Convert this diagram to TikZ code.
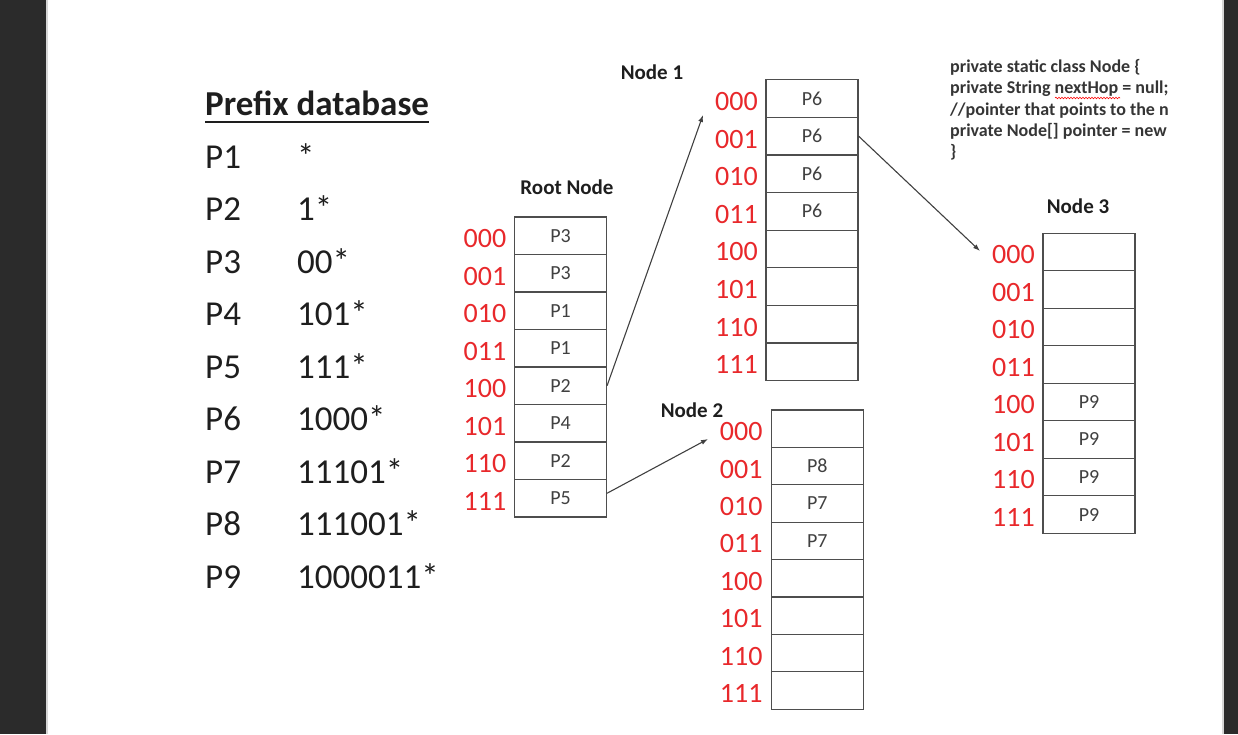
\documentclass[tikz,border=0pt]{standalone}
\usepackage{fontspec}
\setmainfont{Carlito}
\usepackage{xcolor}
\usepackage{tikz}
\usetikzlibrary{positioning, arrows.meta, decorations.pathmorphing}
\definecolor{idxred}{HTML}{E8282B}
\definecolor{ink}{HTML}{1E1E1E}
\definecolor{cellline}{HTML}{4E4E4E}
\definecolor{frame}{HTML}{2B2B2B}
\definecolor{frameedge}{HTML}{D6D6D6}
\tikzstyle{cell} = [rectangle, draw=cellline, line width=1.1pt, minimum width=92pt,
    minimum height=37.5pt, inner sep=0pt, text=ink!85, font=\fontsize{20}{24}\selectfont]
\tikzstyle{idx} = [inner sep=0pt, text=idxred, font=\fontsize{28}{32}\selectfont]
\tikzstyle{title} = [inner sep=0pt, anchor=base, text=ink, font=\bfseries\fontsize{21}{25}\selectfont]
\tikzstyle{db} = [inner sep=0pt, anchor=base west, text=ink, font=\fontsize{35}{40}\selectfont]
\tikzstyle{code} = [inner sep=0pt, anchor=base west, text=ink!90, font=\bfseries\fontsize{18}{21}\selectfont]
\tikzstyle{link} = [draw=ink!85, line width=1.1pt, -{Latex[length=7pt,width=5pt]}]

\begin{document}
\begin{tikzpicture}[x=1pt, y=-1pt]
        \useasboundingbox (0,0) rectangle (1238,734);
        % Screen frame
        \fill [frame] (0,0) rectangle (46,734);
        \fill [frameedge] (46,0) rectangle (48,734);
        \fill [frameedge] (1222,0) rectangle (1224,734);
        \fill [frame] (1224,0) rectangle (1238,734);
        % Prefix database
        \node [db, font=\bfseries\fontsize{35}{40}\selectfont] (dbhead) at (205,115) {Prefix database};
        \draw [ink, line width=2pt] ([yshift=-6.5pt]dbhead.base west) -- ([yshift=-6.5pt]dbhead.base east);
        \foreach \i/\v in {1/*,2/1*,3/00*,4/101*,5/111*,6/1000*,7/11101*,8/111001*,9/1000011*}{
            \node [db] (pname\i) at (205,{168+52.5*(\i-1)}) {P\i};
            \node [db] (pval\i) at (297,{168+52.5*(\i-1)}) {\v};
        }
        % Root node
        \node [title] (roottitle) at (567,194) {Root Node};
        \foreach \i/\b/\p in {0/000/P3,1/001/P3,2/010/P1,3/011/P1,4/100/P2,5/101/P4,6/110/P2,7/111/P5}{
            \node [cell] (root\i) at (560.5,{235.75+37.5*\i}) {\p};
            \node [idx, left=7.5pt of root\i, yshift=-3pt] (rootidx\i) {\b};
        }
        % Node 1
        \node [title] (n1title) at (652,79) {Node 1};
        \foreach \i/\b/\p in {0/000/P6,1/001/P6,2/010/P6,3/011/P6,4/100/{},5/101/{},6/110/{},7/111/{}}{
            \node [cell] (node1c\i) at (812,{98.5+37.6*\i}) {\p};
            \node [idx, left=7.5pt of node1c\i, yshift=-3pt] (node1idx\i) {\b};
        }
        % Node 2
        \node [title] (n2title) at (692,417) {Node 2};
        \foreach \i/\b/\p in {0/000/{},1/001/P8,2/010/P7,3/011/P7,4/100/{},5/101/{},6/110/{},7/111/{}}{
            \node [cell] (node2c\i) at (817.3,{428.7+37.4*\i}) {\p};
            \node [idx, left=8pt of node2c\i, yshift=-3pt] (node2idx\i) {\b};
        }
        % Node 3
        \node [title] (n3title) at (1078,213) {Node 3};
        \foreach \i/\b/\p in {0/000/{},1/001/{},2/010/{},3/011/{},4/100/P9,5/101/P9,6/110/P9,7/111/P9}{
            \node [cell] (node3c\i) at (1089,{252+37.5*\i}) {\p};
            \node [idx, left=7.5pt of node3c\i, yshift=-3pt] (node3idx\i) {\b};
        }
        % Class sketch, cut at the window edge
        \begin{scope}
            \clip (940,50) rectangle (1167,175);
            \node [code] (code1) at (950,72) {private static class Node \{};
            \node [code] (code2) at (950,93.5) {private String nextHop = null;};
            \node [code] (code3) at (950,115) {//pointer that points to the next};
            \node [code] (code4) at (950,136.5) {private Node[] pointer = new};
            \node [code] (code5) at (950,157) {\}};
        \end{scope}
        \draw [red, line width=0.6pt, decorate, decoration={snake, amplitude=0.8pt, segment length=3pt}]
            (1055,98) -- (1120,98);
        % Draw edges
        \coordinate (in1) at (703,115);
        \coordinate (in2) at (708,439);
        \coordinate (in3) at (980,251);
        \path [link] (root4.east) -- (in1);
        \path [link] ([yshift=5pt]root7.east) -- (in2);
        \path [link] (node1c1.east) -- (in3);
\end{tikzpicture}
\end{document}
